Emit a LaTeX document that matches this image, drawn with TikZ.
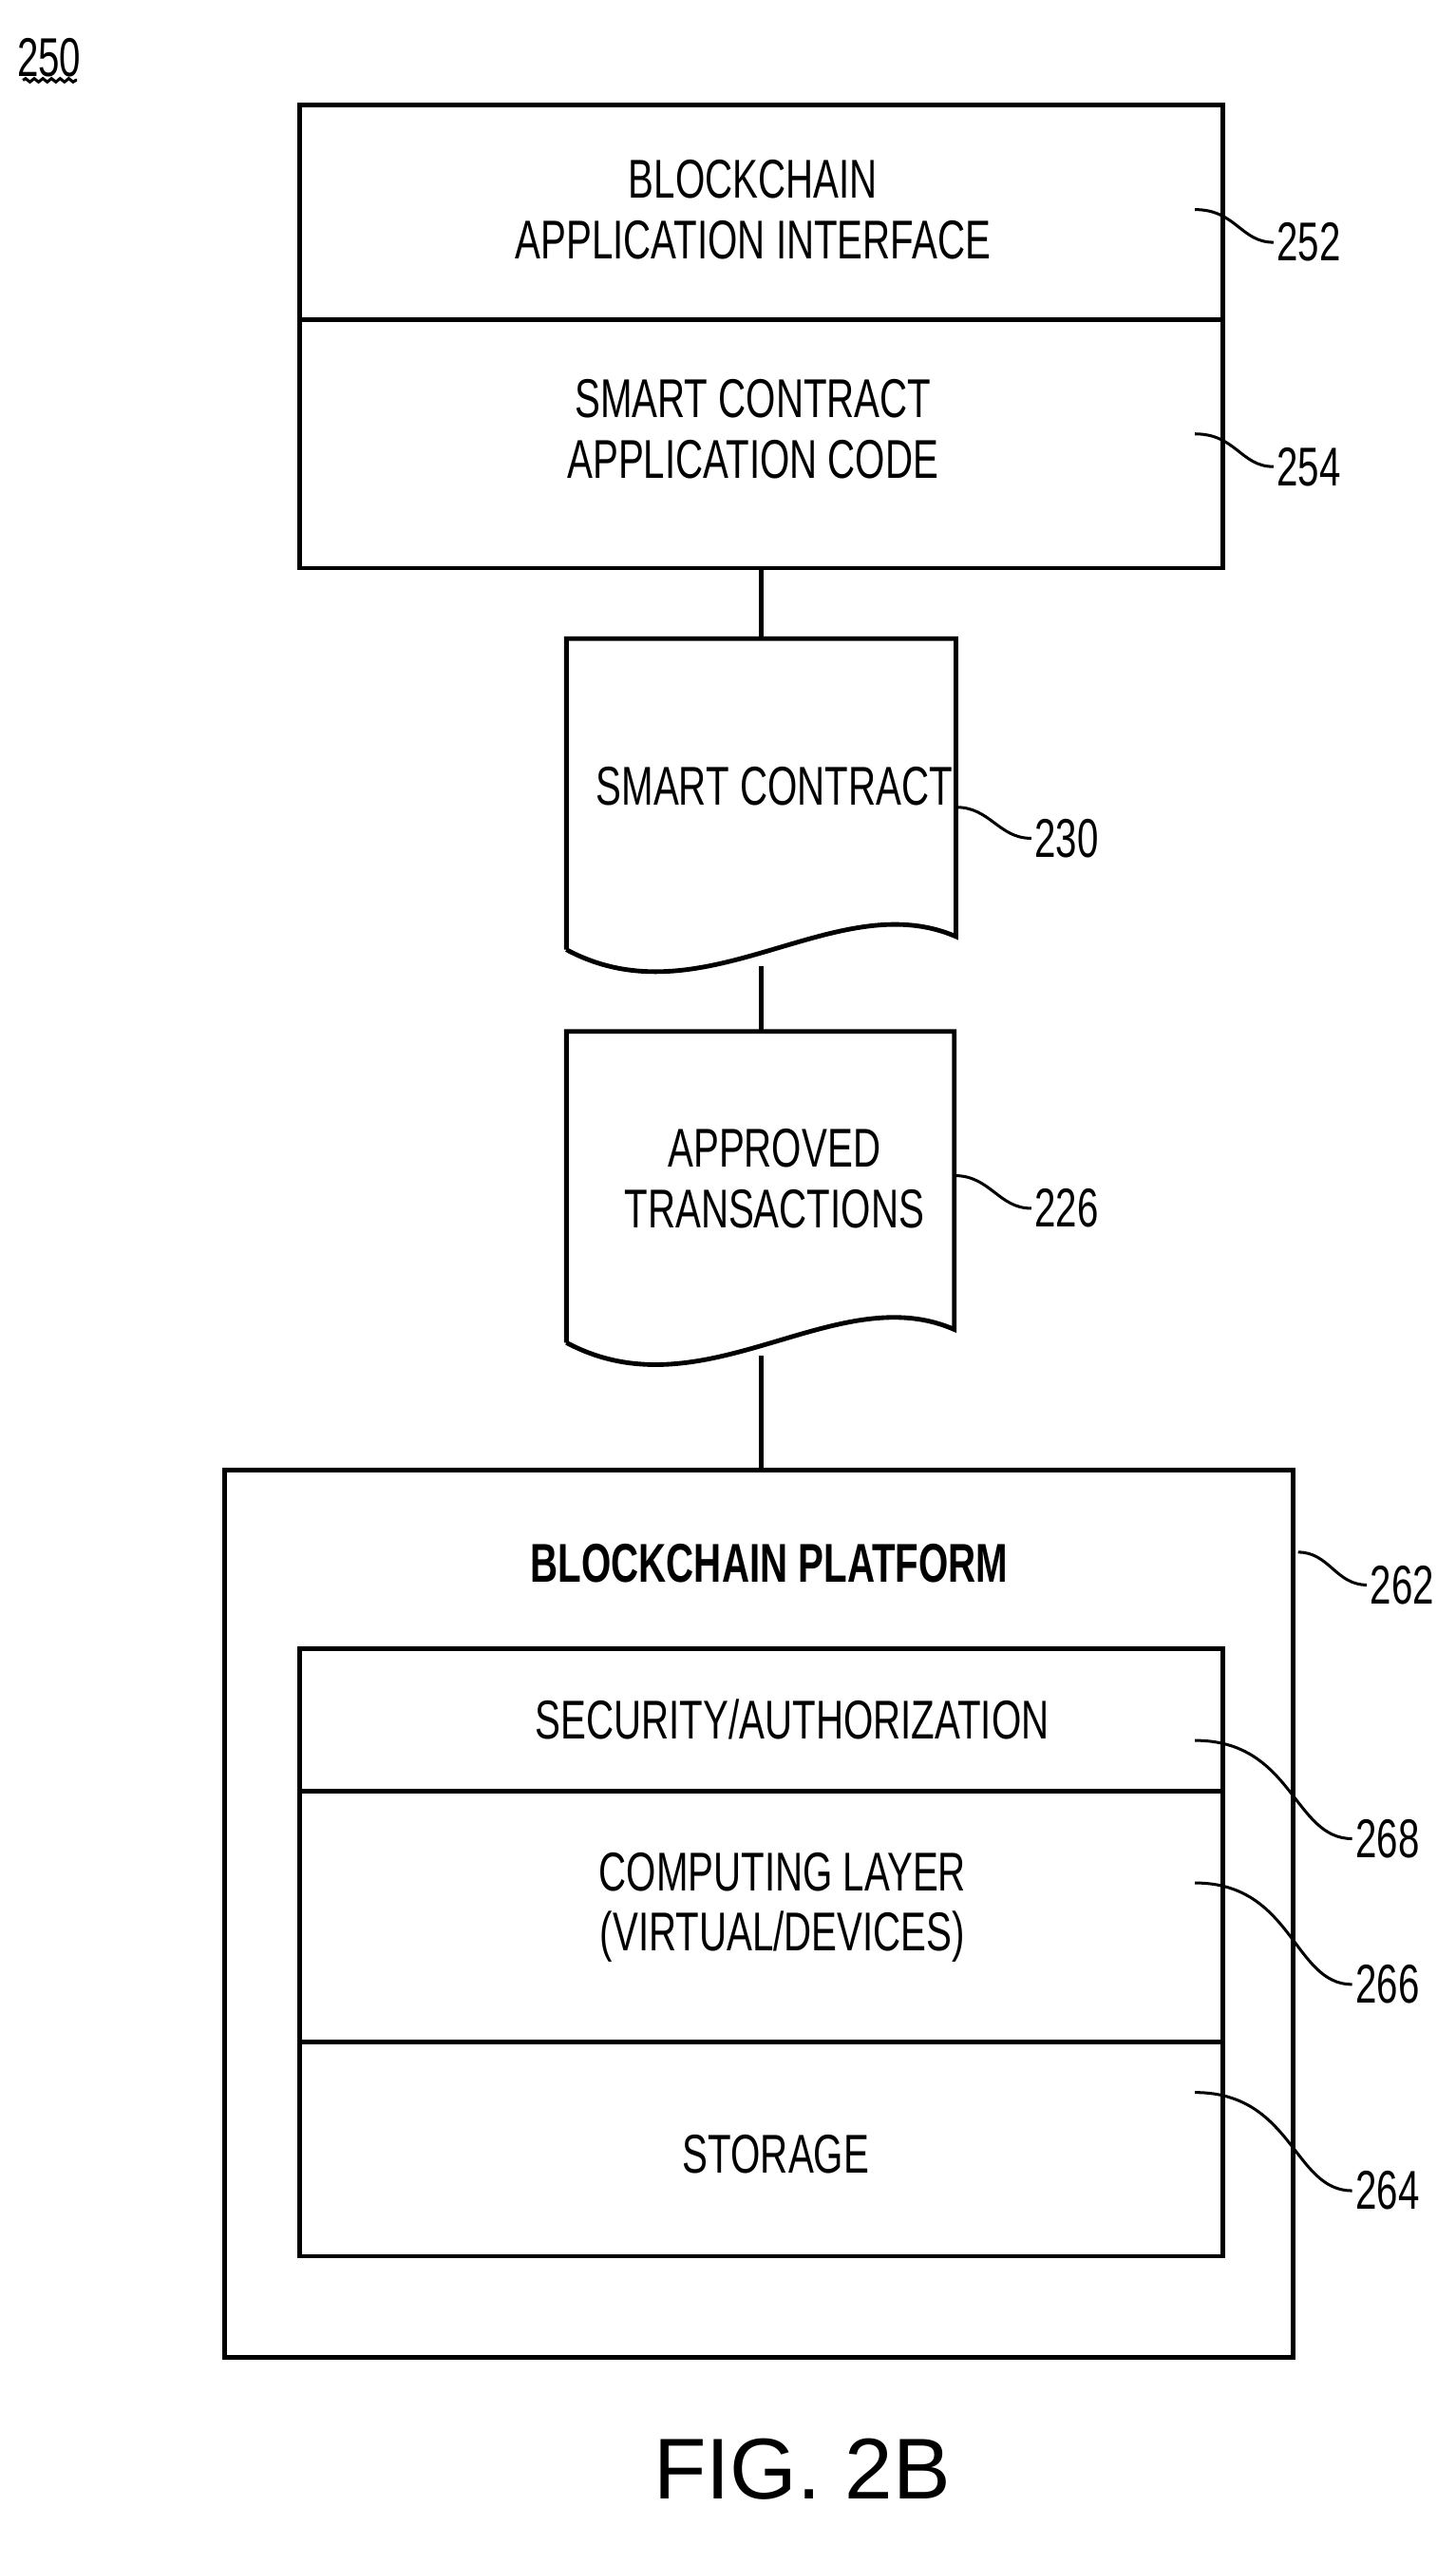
\documentclass[tikz,border=0pt]{standalone}
\usepackage{fontspec}
\usetikzlibrary{decorations.pathmorphing}
\setmainfont{Liberation Sans}[FakeStretch=0.7]
\newfontfamily\figfont{Liberation Sans}
\begin{document}
\begin{tikzpicture}[x=0.02cm,y=-0.02cm,
  box/.style={draw,line width=1.6pt},
  conn/.style={line width=1.6pt},
  txt/.style={font=\fontsize{19}{21}\selectfont,align=center,inner sep=0pt},
  lbl/.style={font=\fontsize{19}{21}\selectfont,inner sep=1pt,anchor=west},
  lead/.style={line width=1pt}]
\useasboundingbox (0,0) rectangle (889,1566);
\node[font=\fontsize{19}{21}\selectfont,inner sep=0pt] (n250) at (30,35) {250};
\draw[lead,decorate,decoration={snake,amplitude=0.6pt,segment length=3pt}] (14,49) -- (47,49);
% top box
\draw[box] (183,64) rectangle (747,347);
\draw[box] (183,195) -- (747,195);
\coordinate (topb) at (465,347);
\node[txt] (t252) at (460,128) {BLOCKCHAIN\\APPLICATION INTERFACE};
\node[txt] (t254) at (460,262) {SMART CONTRACT\\APPLICATION CODE};
\node[lbl] (l252) at (778,148) {252};
\node[lbl] (l254) at (778,285) {254};
\draw[lead] (730,128) .. controls (755,128) and (758,148) .. (l252.west);
\draw[lead] (730,265) .. controls (755,265) and (758,285) .. (l254.west);
% doc 230
\draw[box] (346,580) -- (346,390) -- (584,390) -- (584,572) .. controls (510,540) and (430,625) .. (346,580);
\coordinate (d1t) at (465,390);
\coordinate (d1b) at (465,590);
\node[txt] (t230) at (473,480) {SMART CONTRACT};
\node[lbl] (l230) at (630,512) {230};
\draw[lead] (584,493) .. controls (605,493) and (610,512) .. (l230.west);
\draw[conn] (topb) -- (d1t);
% doc 226
\draw[box] (346,820) -- (346,630) -- (583,630) -- (583,812) .. controls (510,780) and (430,865) .. (346,820);
\coordinate (d2t) at (465,630);
\coordinate (d2b) at (465,828);
\node[txt] (t226) at (473,720) {APPROVED\\TRANSACTIONS};
\node[lbl] (l226) at (630,738) {226};
\draw[lead] (583,718) .. controls (605,718) and (610,738) .. (l226.west);
\draw[conn] (d1b) -- (d2t);
% platform
\draw[box] (137,898) rectangle (790,1440);
\coordinate (pt) at (465,898);
\draw[conn] (d2b) -- (pt);
\node[txt,font=\fontsize{19}{21}\selectfont\bfseries] (t262) at (470,955) {BLOCKCHAIN PLATFORM};
\node[lbl] (l262) at (835,968) {262};
\draw[lead] (793,948) .. controls (812,948) and (816,968) .. (l262.west);
\draw[box] (183,1007) rectangle (747,1378);
\draw[box] (183,1094) -- (747,1094);
\draw[box] (183,1247) -- (747,1247);
\node[txt] (t268) at (484,1050) {SECURITY/AUTHORIZATION};
\node[txt] (t266) at (478,1165) {COMPUTING LAYER\\(VIRTUAL/DEVICES)};
\node[txt] (t264) at (474,1316) {STORAGE};
\node[lbl] (l268) at (826,1123) {268};
\node[lbl] (l266) at (826,1212) {266};
\node[lbl] (l264) at (826,1338) {264};
\draw[lead] (730,1063) .. controls (790,1063) and (790,1123) .. (l268.west);
\draw[lead] (730,1150) .. controls (790,1150) and (790,1212) .. (l266.west);
\draw[lead] (730,1278) .. controls (790,1278) and (790,1338) .. (l264.west);
\node[font=\figfont\fontsize{30}{32}\selectfont,inner sep=0pt] (fig) at (490,1508) {FIG. 2B};
\end{tikzpicture}
\end{document}
